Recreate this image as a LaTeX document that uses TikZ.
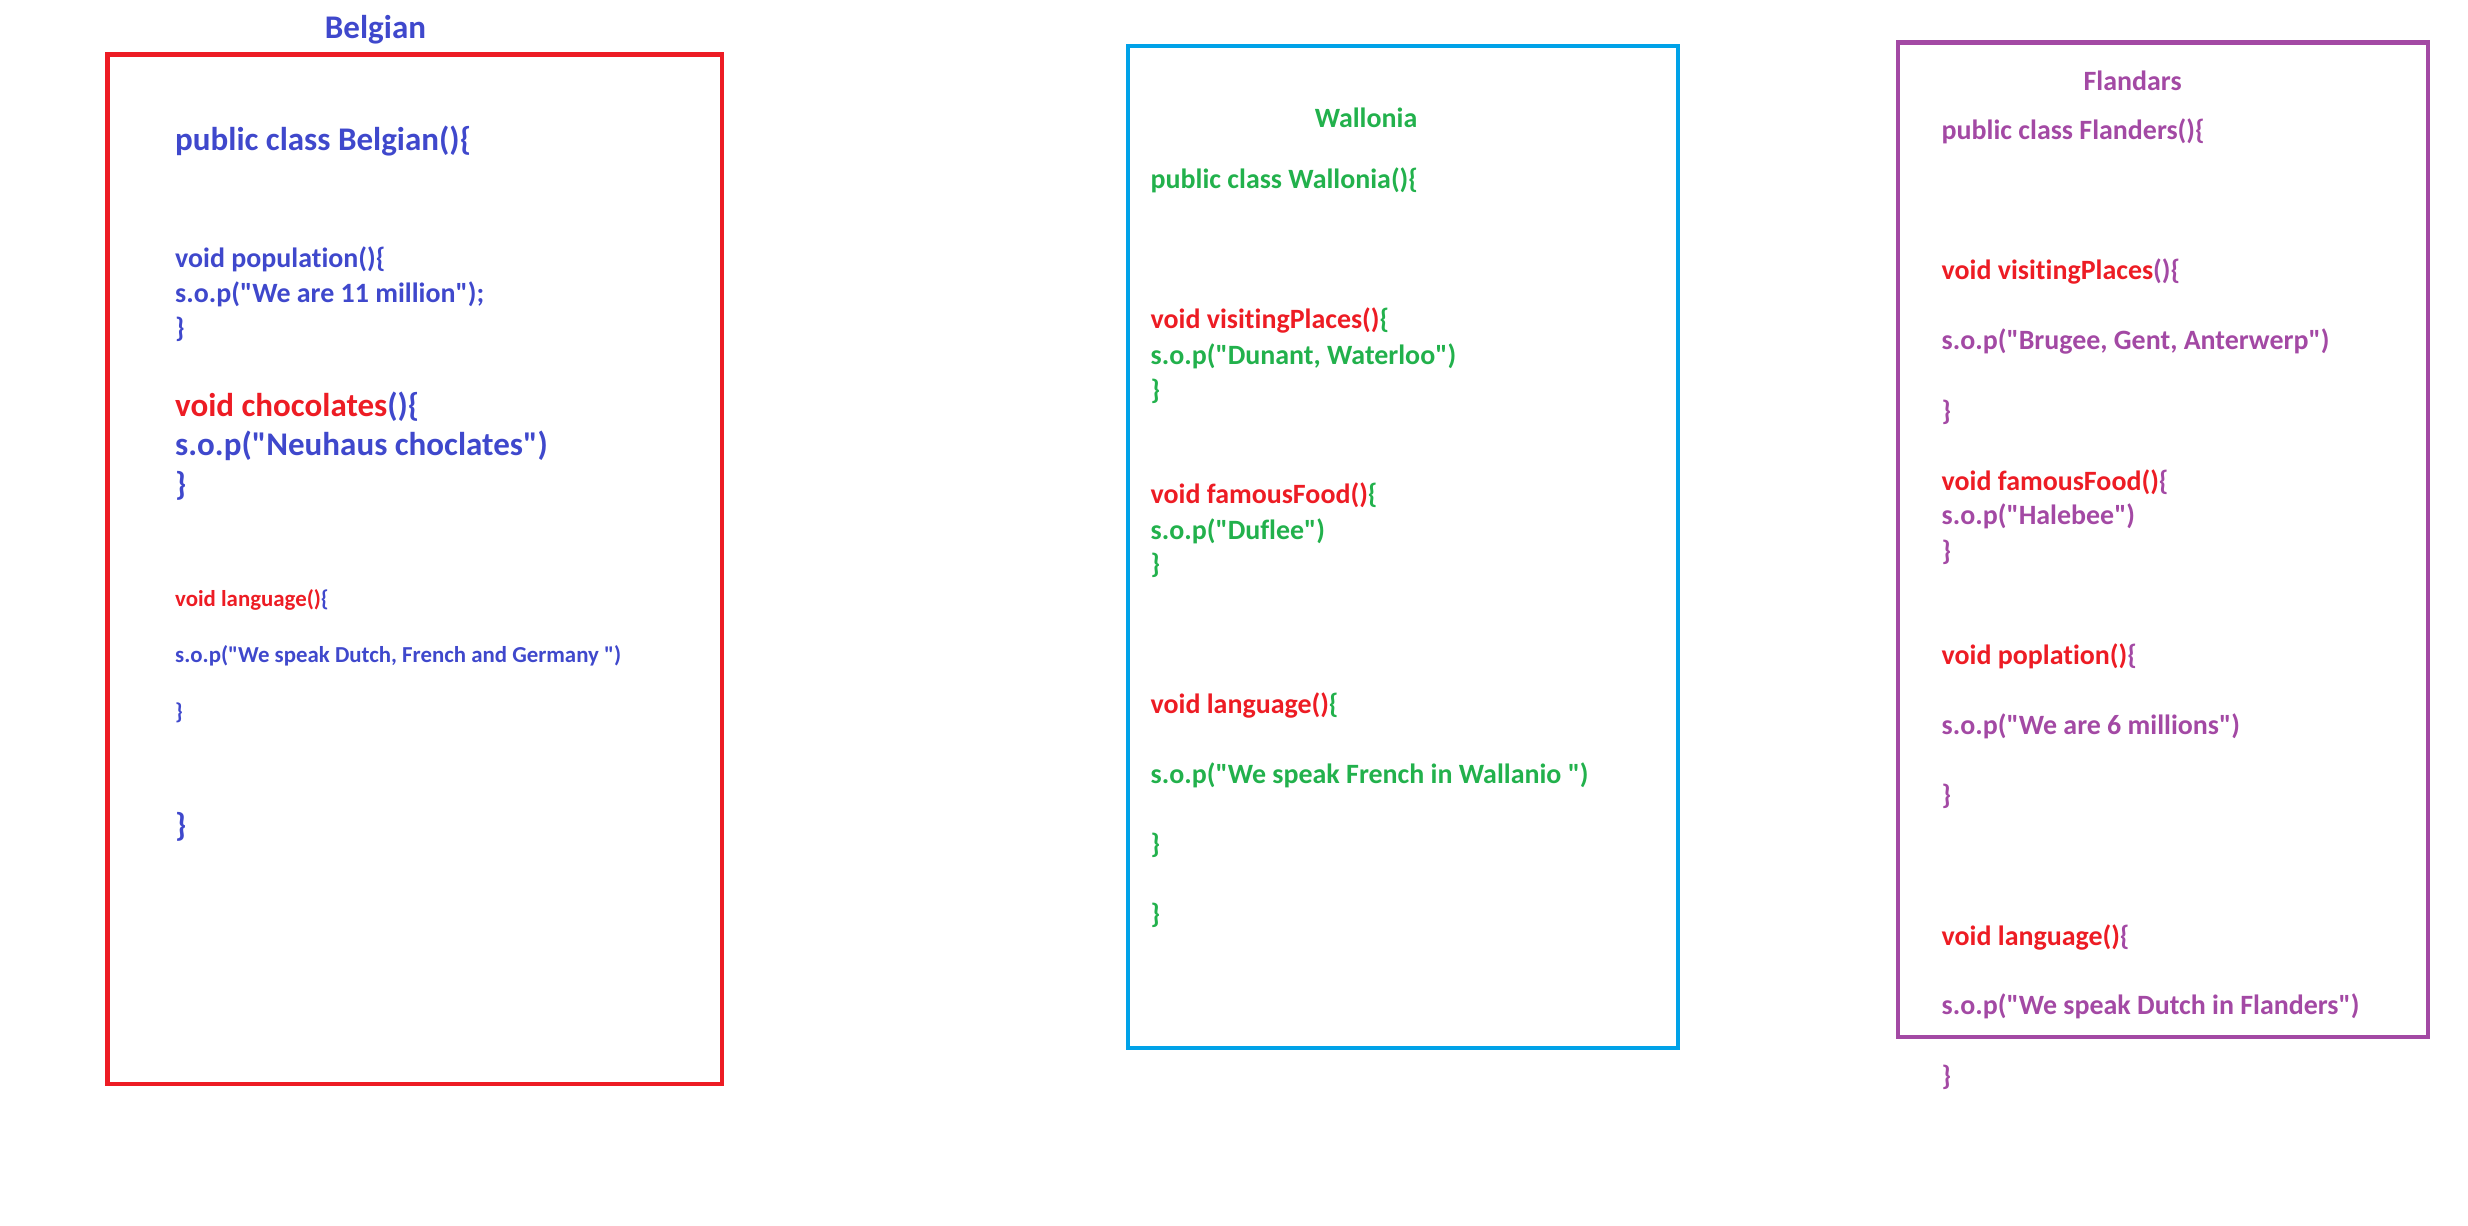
\documentclass[tikz,border=0pt]{standalone}
\usepackage{fontspec}
\setmainfont{Carlito}[Ligatures={TeXOff,CommonOff}]
\definecolor{pred}{HTML}{ED1C24}
\definecolor{pblue}{HTML}{3F48CC}
\definecolor{pcyan}{HTML}{00A2E8}
\definecolor{pgreen}{HTML}{22B14C}
\definecolor{ppurple}{HTML}{A349A4}
\tikzset{
	codebig/.style={font=\bfseries\fontsize{9.4}{11}\selectfont},
	codemid/.style={font=\bfseries\fontsize{7.95}{9.5}\selectfont},
	codetiny/.style={font=\bfseries\fontsize{6.5}{8}\selectfont},
	classbox/.style={line width=0.47mm},
	title/.style={anchor=center}
}
\begin{document}
\begin{tikzpicture}[x=0.1mm,y=-0.1mm]
			\tikzstyle{every node}+=[inner sep=0pt,anchor=west]
			\useasboundingbox (0,0) rectangle (2468,1226);
			% Belgian
			\draw [classbox,pred] (107.5,54.7) rectangle (722,1084);
			\node [title,codebig,pblue] (btitle) at (375.5,30) {Belgian};
			\node [codebig,pblue] (bclass) at (174.5,141) {public class Belgian()\{};
			\node [codemid,pblue] (bpop) at (174.5,259) {void population()\{};
			\node [codemid,pblue] (bpopsop) at (174.5,294) {s.o.p("We are 11 million");};
			\node [codemid,pblue] (bpopend) at (174.5,329) {\}};
			\node [codebig,pblue] (bchoc) at (174.5,407) {\textcolor{pred}{void chocolates}()\{};
			\node [codebig,pblue] (bchocsop) at (174.5,446) {s.o.p("Neuhaus choclates")};
			\node [codebig,pblue] (bchocend) at (174.5,486) {\}};
			\node [codetiny,pblue] (blang) at (174.5,600) {\textcolor{pred}{void language()}\{};
			\node [codetiny,pblue] (blangsop) at (174.5,656) {s.o.p("We speak Dutch, French and Germany ")};
			\node [codetiny,pblue] (blangend) at (174.5,713) {\}};
			\node [codebig,pblue] (bend) at (174.5,827) {\}};
			% Wallonia
			\draw [classbox,pcyan] (1128,46) rectangle (1678,1048);
			\node [title,codemid,pgreen] (wtitle) at (1366,118) {Wallonia};
			\node [codemid,pgreen] (wclass) at (1150,180) {public class Wallonia()\{};
			\node [codemid,pgreen] (wvisit) at (1150,320) {\textcolor{pred}{void visitingPlaces()}\{};
			\node [codemid,pgreen] (wvisitsop) at (1150,356) {s.o.p("Dunant, Waterloo")};
			\node [codemid,pgreen] (wvisitend) at (1150,391) {\}};
			\node [codemid,pgreen] (wfood) at (1150,495) {\textcolor{pred}{void famousFood()}\{};
			\node [codemid,pgreen] (wfoodsop) at (1150,531) {s.o.p("Duflee")};
			\node [codemid,pgreen] (wfoodend) at (1150,565) {\}};
			\node [codemid,pgreen] (wlang) at (1150,705) {\textcolor{pred}{void language()}\{};
			\node [codemid,pgreen] (wlangsop) at (1150,775) {s.o.p("We speak French in Wallanio ")};
			\node [codemid,pgreen] (wlangend) at (1150,845) {\}};
			\node [codemid,pgreen] (wend) at (1150,915) {\}};
			% Flanders
			\draw [classbox,ppurple] (1898,42.7) rectangle (2428,1037);
			\node [title,codemid,ppurple] (ftitle) at (2132.6,80.5) {Flandars};
			\node [codemid,ppurple] (fclass) at (1941,131) {public class Flanders()\{};
			\node [codemid,ppurple] (fvisit) at (1941,271) {\textcolor{pred}{void visitingPlaces}()\{};
			\node [codemid,ppurple] (fvisitsop) at (1941,341) {s.o.p("Brugee, Gent, Anterwerp")};
			\node [codemid,ppurple] (fvisitend) at (1941,412) {\}};
			\node [codemid,ppurple] (ffood) at (1941,482) {\textcolor{pred}{void famousFood()}\{};
			\node [codemid,ppurple] (ffoodsop) at (1941,516.5) {s.o.p("Halebee")};
			\node [codemid,ppurple] (ffoodend) at (1941,552) {\}};
			\node [codemid,ppurple] (fpop) at (1941,656) {\textcolor{pred}{void poplation()}\{};
			\node [codemid,ppurple] (fpopsop) at (1941,726) {s.o.p("We are 6 millions")};
			\node [codemid,ppurple] (fpopend) at (1941,796) {\}};
			\node [codemid,ppurple] (flang) at (1941,937) {\textcolor{pred}{void language()}\{};
			\node [codemid,ppurple] (flangsop) at (1941,1006) {s.o.p("We speak Dutch in Flanders")};
			\node [codemid,ppurple] (fend) at (1941,1077) {\}};
		\end{tikzpicture}
\end{document}
